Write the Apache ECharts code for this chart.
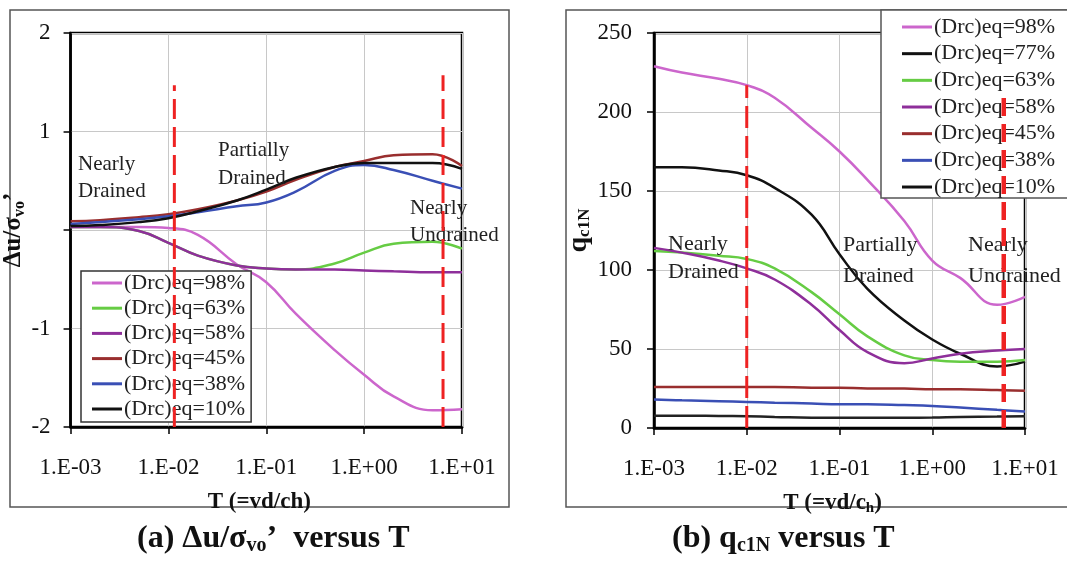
<!DOCTYPE html>
<html>
<head>
<meta charset="utf-8">
<script src="https://cdn.jsdelivr.net/npm/echarts@6/dist/echarts.min.js"></script>
<style>
html,body{margin:0;padding:0;background:#fff;}
#c{width:1067px;height:561px;}
</style>
</head>
<body>
<div id="c"></div>
<script>
// ---------- DATA ----------
const T = [0.001, 0.002, 0.005, 0.01, 0.02, 0.05, 0.1, 0.2, 0.5, 1, 2, 5, 10];
const xTicks = [0.001, 0.01, 0.1, 1, 10];

// (a) Δu/σvo' versus T
const du98 = [0.03, 0.03, 0.03, 0.02, -0.05, -0.35, -0.53, -0.85, -1.22, -1.47, -1.69, -1.83, -1.82];
const du63 = [0.03, 0.03, -0.01, -0.13, -0.26, -0.36, -0.39, -0.40, -0.34, -0.23, -0.14, -0.12, -0.19];
const du58 = [0.03, 0.03, -0.01, -0.13, -0.26, -0.36, -0.39, -0.40, -0.40, -0.41, -0.42, -0.43, -0.43];
const du45 = [0.09, 0.10, 0.13, 0.16, 0.21, 0.30, 0.39, 0.51, 0.64, 0.70, 0.76, 0.77, 0.65];
const du38 = [0.06, 0.08, 0.11, 0.14, 0.18, 0.24, 0.28, 0.39, 0.60, 0.66, 0.61, 0.50, 0.42];
const du10 = [0.04, 0.05, 0.08, 0.12, 0.19, 0.30, 0.41, 0.53, 0.64, 0.68, 0.68, 0.68, 0.62];

// (b) qc1N versus T
const q98 = [229, 225, 221, 217, 209, 190, 175, 157, 131, 106, 95, 78, 83];
const q77 = [165, 165, 163, 160, 152, 135, 110, 88, 68, 56, 47, 39, 42];
const q63 = [112, 111, 109, 107, 101, 86, 72, 58, 46, 43, 42, 42, 43];
const q58 = [114, 111, 106, 101, 94, 78, 62, 48, 41, 44, 47, 49, 50];
const q45 = [26, 26, 26, 26, 26, 25.5, 25.5, 25, 25, 24.5, 24.5, 24, 23.5];
const q38 = [18, 17.5, 17, 16.5, 16, 15.5, 15, 15, 14.5, 14, 13, 11.5, 10.5];
const q10 = [7.8, 7.8, 7.6, 7.4, 7, 6.5, 6.5, 6.5, 6.5, 6.6, 7, 7.2, 7.4];

// regime boundaries (T, top value)
const bndA_T = [0.0115, 6.4];
const bndA_top = [1.47, 1.57];
const bndB_T = [0.01, 5.9];
const bndB_top = [217, 209];

const namesA = ['(Drc)eq=98%', '(Drc)eq=63%', '(Drc)eq=58%', '(Drc)eq=45%', '(Drc)eq=38%', '(Drc)eq=10%'];
const namesB = ['(Drc)eq=98%', '(Drc)eq=77%', '(Drc)eq=63%', '(Drc)eq=58%', '(Drc)eq=45%', '(Drc)eq=38%', '(Drc)eq=10%'];

// ---------- STYLE ----------
const C = {
  pink: '#cc66cc', black: '#111111', green: '#66cc44', purple: '#8e2f9a',
  red: '#992e2e', blue: '#3a4fb5', black2: '#222222'
};
const SERIF = 'Liberation Serif, Times New Roman, serif';

function zip(xs, ys) { return xs.map((x, i) => [x, ys[i]]); }
function lineS(name, data, color, xi) {
  return {
    type: 'line', name: name, xAxisIndex: xi, yAxisIndex: xi,
    data: zip(T, data), smooth: 0.45, symbol: 'none', showSymbol: false,
    lineStyle: { color: color, width: 2.5 }, itemStyle: { color: color }, z: 2
  };
}
function dashS(xT, top, bottom, xi, w, dash) {
  return {
    type: 'line', xAxisIndex: xi, yAxisIndex: xi, symbol: 'none', silent: true,
    data: [[xT, bottom], [xT, top]], z: 6,
    lineStyle: { color: '#ee2222', width: w, type: dash }
  };
}
function expLabel(v) {
  const e = Math.round(Math.log10(v));
  return '1.E' + (e < 0 ? '-' : '+') + String(Math.abs(e)).padStart(2, '0');
}

const axisLabelStyle = { fontFamily: SERIF, fontSize: 23, color: '#111' };
const gridLine = { show: true, lineStyle: { color: '#c8c8c8', width: 1 } };
const legendIcon = 'path://M0,0 L30,0 L30,3 L0,3 Z';

const chart = echarts.init(document.getElementById('c'), null, { renderer: 'canvas' });

const option = {
  animation: false,
  backgroundColor: '#fff',
  grid: [
    { left: 70, top: 33, width: 392, height: 394, show: true, borderColor: '#000', borderWidth: 2.5, backgroundColor: 'transparent' },
    { left: 654, top: 33, width: 371, height: 395, show: true, borderColor: '#000', borderWidth: 2.5, backgroundColor: 'transparent' }
  ],
  xAxis: [0, 1].map(i => ({
    type: 'log', logBase: 10, min: xTicks[0], max: xTicks[xTicks.length - 1], gridIndex: i,
    axisLine: { show: true, onZero: false, lineStyle: { color: '#000', width: 2.5 } },
    axisTick: { show: true, inside: false, length: 7, lineStyle: { color: '#000', width: 1.5 } },
    minorTick: { show: false },
    axisLabel: Object.assign({ margin: 29, formatter: expLabel }, axisLabelStyle),
    splitLine: gridLine,
    name: i === 0 ? '{b|T (=vd/ch)}' : '{b|T (=vd/c}{s|h}{b|)}',
    nameLocation: 'middle', nameGap: 62,
    nameTextStyle: {
      padding: [0, 14, 0, 0],
      rich: {
        b: { fontFamily: SERIF, fontSize: 23, fontWeight: 'bold', color: '#111', lineHeight: 26 },
        s: { fontFamily: SERIF, fontSize: 15, fontWeight: 'bold', color: '#111', lineHeight: 18, verticalAlign: 'bottom' }
      }
    }
  })),
  yAxis: [
    {
      type: 'value', gridIndex: 0, min: -2, max: 2, interval: 1,
      axisLine: { show: true, onZero: false, lineStyle: { color: '#000', width: 2.5 } },
      axisTick: { show: true, length: 7, lineStyle: { color: '#000', width: 1.5 } },
      axisLabel: Object.assign({ margin: 20, formatter: v => (v === 0 ? '' : String(v)) }, axisLabelStyle),
      splitLine: gridLine,
      name: '{b|Δu/σ}{s|vo}{b|’}', nameLocation: 'middle', nameGap: 22, nameRotate: 90,
      nameTextStyle: {
        rich: {
          b: { fontFamily: SERIF, fontSize: 25, fontWeight: 'bold', color: '#111', lineHeight: 28 },
          s: { fontFamily: SERIF, fontSize: 16, fontWeight: 'bold', color: '#111', lineHeight: 20, verticalAlign: 'bottom' }
        }
      }
    },
    {
      type: 'value', gridIndex: 1, min: 0, max: 250, interval: 50,
      axisLine: { show: true, onZero: false, lineStyle: { color: '#000', width: 2.5 } },
      axisTick: { show: true, length: 7, lineStyle: { color: '#000', width: 1.5 } },
      axisLabel: Object.assign({ margin: 22 }, axisLabelStyle),
      splitLine: gridLine,
      name: '{b|q}{s|c1N}', nameLocation: 'middle', nameGap: 57, nameRotate: 90,
      nameTextStyle: {
        rich: {
          b: { fontFamily: SERIF, fontSize: 28, fontWeight: 'bold', color: '#111', lineHeight: 30 },
          s: { fontFamily: SERIF, fontSize: 17, fontWeight: 'bold', color: '#111', lineHeight: 22, verticalAlign: 'bottom' }
        }
      }
    }
  ],
  legend: [
    {
      data: namesA, orient: 'vertical', left: 81, top: 271, z: 4,
      backgroundColor: '#fff', borderColor: '#333', borderWidth: 1.5,
      padding: [1, 6, 2, 11], itemGap: 3.2, itemWidth: 30, itemHeight: 3, icon: legendIcon,
      textStyle: { fontFamily: SERIF, fontSize: 22, color: '#222', lineHeight: 22, padding: [0, 0, 0, -3] },
      selectedMode: false
    },
    {
      data: namesB, orient: 'vertical', left: 881, top: 10, z: 4,
      backgroundColor: '#fff', borderColor: '#555', borderWidth: 1.5,
      padding: [6, 30, 0, 21], itemGap: 4.67, itemWidth: 30, itemHeight: 3, icon: legendIcon,
      textStyle: { fontFamily: SERIF, fontSize: 22, color: '#222', lineHeight: 22, padding: [0, 0, 0, -3] },
      selectedMode: false
    }
  ],
  series: [
    lineS(namesA[0], du98, C.pink, 0),
    lineS(namesA[1], du63, C.green, 0),
    lineS(namesA[2], du58, C.purple, 0),
    lineS(namesA[3], du45, C.red, 0),
    lineS(namesA[4], du38, C.blue, 0),
    lineS(namesA[5], du10, C.black, 0),
    lineS(namesB[0], q98, C.pink, 1),
    lineS(namesB[1], q77, C.black, 1),
    lineS(namesB[2], q63, C.green, 1),
    lineS(namesB[3], q58, C.purple, 1),
    lineS(namesB[4], q45, C.red, 1),
    lineS(namesB[5], q38, C.blue, 1),
    lineS(namesB[6], q10, C.black2, 1),
    dashS(bndA_T[0], bndA_top[0], -2, 0, 3, [20, 8]),
    dashS(bndA_T[1], bndA_top[1], -2, 0, 3, [20, 8]),
    dashS(bndB_T[0], bndB_top[0], 0, 1, 3, [22, 8]),
    dashS(bndB_T[1], bndB_top[1], 0, 1, 4.5, [18, 8])
  ],
  graphic: [
    { type: 'rect', z: -1, shape: { x: 10, y: 10, width: 499, height: 497 }, style: { fill: 'none', stroke: '#555', lineWidth: 1.5 } },
    { type: 'rect', z: -1, shape: { x: 566, y: 10, width: 520, height: 497 }, style: { fill: 'none', stroke: '#555', lineWidth: 1.5 } },
    // region annotations (a)
    { type: 'text', z: 5, left: 78, top: 151, style: { text: 'Nearly\nDrained', font: '21px ' + SERIF, fill: '#222', lineHeight: 27 } },
    { type: 'text', z: 5, left: 218, top: 136, style: { text: 'Partially\nDrained', font: '21px ' + SERIF, fill: '#222', lineHeight: 28 } },
    { type: 'text', z: 5, left: 410, top: 195, style: { text: 'Nearly\nUndrained', font: '21px ' + SERIF, fill: '#222', lineHeight: 27 } },
    // region annotations (b)
    { type: 'text', z: 5, left: 668, top: 230, style: { text: 'Nearly\nDrained', font: '22px ' + SERIF, fill: '#222', lineHeight: 28 } },
    { type: 'text', z: 5, left: 843, top: 230, style: { text: 'Partially\nDrained', font: '22px ' + SERIF, fill: '#222', lineHeight: 31 } },
    { type: 'text', z: 5, left: 968, top: 230, style: { text: 'Nearly\nUndrained', font: '22px ' + SERIF, fill: '#222', lineHeight: 31 } },
    // captions
    {
      type: 'text', left: 137, top: 523,
      style: {
        text: '{b|(a) Δu/σ}{s|vo}{b|’  versus T}',
        rich: {
          b: { font: 'bold 32px ' + SERIF, fill: '#111', lineHeight: 34 },
          s: { font: 'bold 20px ' + SERIF, fill: '#111', lineHeight: 26, verticalAlign: 'bottom' }
        }
      }
    },
    {
      type: 'text', left: 672, top: 523,
      style: {
        text: '{b|(b) q}{s|c1N}{b| versus T}',
        rich: {
          b: { font: 'bold 32px ' + SERIF, fill: '#111', lineHeight: 34 },
          s: { font: 'bold 20px ' + SERIF, fill: '#111', lineHeight: 26, verticalAlign: 'bottom' }
        }
      }
    }
  ]
};
chart.setOption(option);
</script>
</body>
</html>
